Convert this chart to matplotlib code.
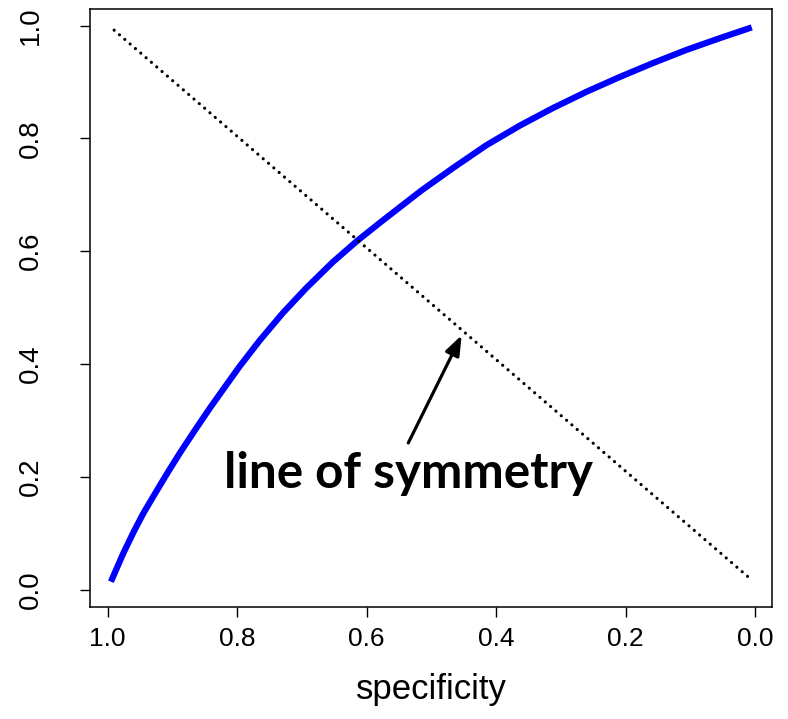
import matplotlib
matplotlib.use("Agg")
import matplotlib.pyplot as plt

# ---- data ----
specificity = [0.995, 0.976, 0.960, 0.945, 0.927, 0.906, 0.888, 0.865, 0.842,
               0.816, 0.796, 0.765, 0.729, 0.693, 0.652, 0.615, 0.579, 0.533,
               0.515, 0.466, 0.415, 0.363, 0.312, 0.260, 0.209, 0.157, 0.106,
               0.054, 0.005]
sensitivity = [0.014, 0.064, 0.102, 0.135, 0.170, 0.210, 0.243, 0.283, 0.322,
               0.364, 0.396, 0.442, 0.491, 0.535, 0.581, 0.618, 0.651, 0.692,
               0.708, 0.748, 0.788, 0.823, 0.854, 0.883, 0.909, 0.934, 0.957,
               0.978, 0.997]
sym_x = [0.990, 0.008]
sym_y = [0.992, 0.020]
x_ticks = [1.0, 0.8, 0.6, 0.4, 0.2, 0.0]
y_ticks = [0.0, 0.2, 0.4, 0.6, 0.8, 1.0]
tick_labels_x = ["1.0", "0.8", "0.6", "0.4", "0.2", "0.0"]
tick_labels_y = ["0.0", "0.2", "0.4", "0.6", "0.8", "1.0"]
xlabel = "specificity"
annot_text = "line of symmetry"
annot_pos = (0.5359, 0.1797)
arrow_tail = (0.5356, 0.260)
arrow_tip = (0.4531, 0.451)

W, H = 788, 719
fig = plt.figure(figsize=(W / 100, H / 100), dpi=100)
ax = fig.add_axes([90 / W, 1 - 607 / H, (772 - 90) / W, (607 - 9) / H])

ax.plot(specificity, sensitivity, color="#0000FF", lw=4.5, solid_capstyle="butt",
        solid_joinstyle="round")
ax.plot(sym_x, sym_y, color="black", lw=2.3, linestyle=(0, (0.01, 2.19)),
        dash_capstyle="round")

ax.set_xlim(1.0273, -0.0263)
ax.set_ylim(-0.0309, 1.0296)

ax.set_xticks(x_ticks)
ax.set_xticklabels(tick_labels_x, fontsize=19, family="Liberation Sans")
ax.set_yticks(y_ticks)
ax.set_yticklabels(tick_labels_y, fontsize=20, family="Liberation Sans")
ax.tick_params(axis="both", direction="out", length=7.2, width=1.0, color="black")
ax.tick_params(axis="x", pad=7)
ax.tick_params(axis="y", pad=26, labelrotation=90)
for lab in ax.get_yticklabels():
    lab.set_va("center")

for sp in ax.spines.values():
    sp.set_linewidth(1.1)
    sp.set_color("black")

ax.set_xlabel(xlabel, fontsize=25, family="Liberation Sans", labelpad=16)

# bold annotation, fit width to ~369 px
t = ax.text(annot_pos[0], annot_pos[1], annot_text, fontsize=30, fontweight="bold",
            family="Lato", ha="center", va="baseline", color="black")
fig.canvas.draw()
r = fig.canvas.get_renderer()
w = t.get_window_extent(r).width
t.set_fontsize(30 * 369 / w)

ax.annotate("", xy=arrow_tip, xytext=arrow_tail,
            arrowprops=dict(arrowstyle="-|>,head_length=12,head_width=4.5",
                            mutation_scale=1, lw=2.3, color="black",
                            shrinkA=0, shrinkB=0))

fig.savefig("out.png", dpi=100)
